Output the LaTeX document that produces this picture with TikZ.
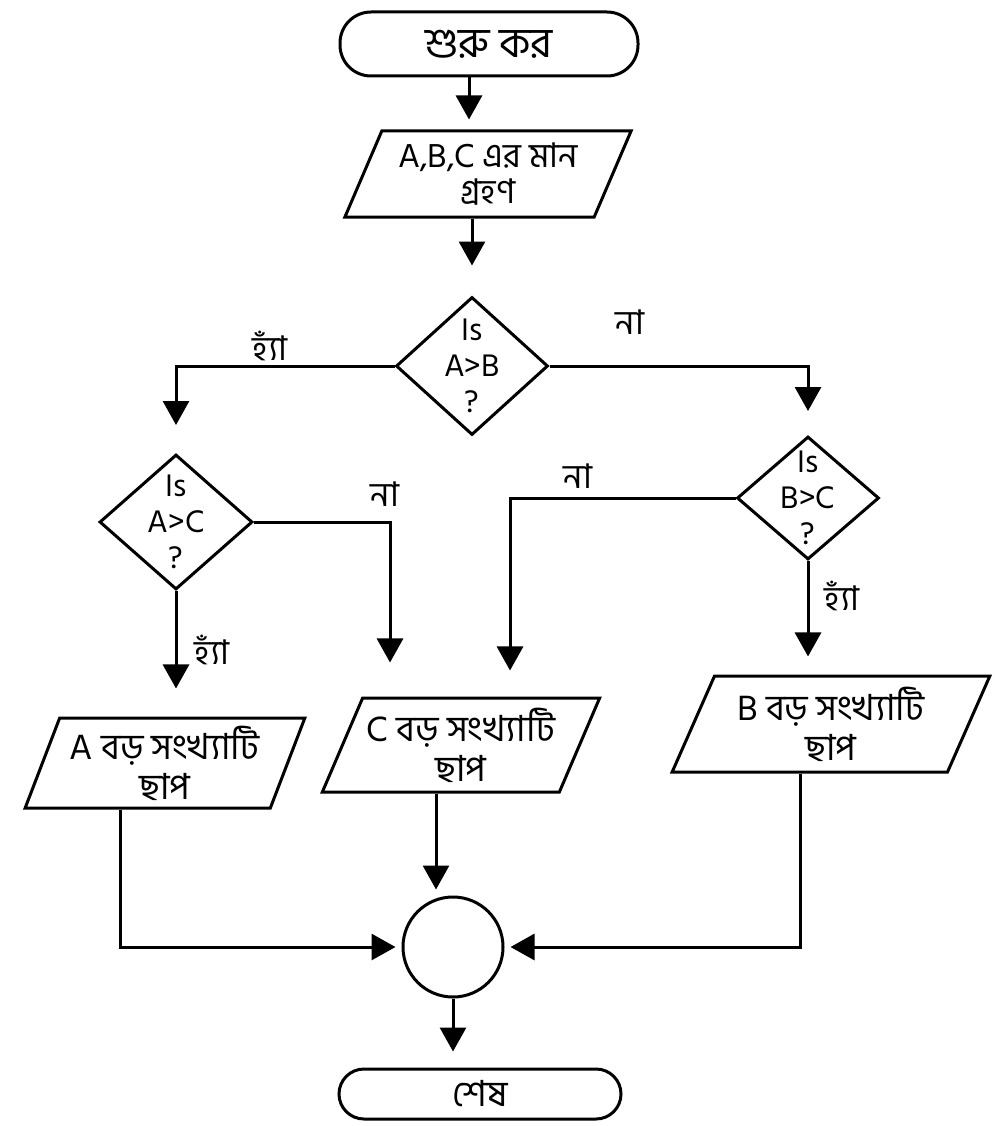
\documentclass[tikz,border=0pt]{standalone}
\usepackage{fontspec}
\setmainfont[Script=Bengali]{Hind Siliguri}
\usetikzlibrary{shapes.geometric,arrows.meta,calc}
\tikzset{
  base/.style={draw, line width=3pt, align=center, inner sep=0pt},
  term/.style={base, rectangle},
  io/.style={base, trapezium, trapezium stretches=true, inner sep=-6pt},
  decision/.style={base, diamond, inner sep=-18pt, font=\fontsize{32}{36}\selectfont},
  junction/.style={base, circle, minimum size=100pt},
  flow/.style={line width=3pt, -{Triangle[width=26pt,length=24pt]}},
  lbl/.style={font=\fontsize{34}{36}\selectfont, inner sep=0pt}
}
\begin{document}
\begin{tikzpicture}[x=1pt,y=-1pt]
\useasboundingbox (0,0) rectangle (995,1126);
% nodes
\node[term, rounded corners=31pt, minimum width=298pt, minimum height=64pt, font=\fontsize{42}{44}\selectfont] (start) at (489,44) {শুরু কর};
\node[io, trapezium left angle=60, trapezium right angle=120, minimum width=287pt, minimum height=86pt, font=\fontsize{34}{36}\selectfont] (in) at (488,174) {A,B,C এর মান\\গ্রহণ};
\node[decision, minimum width=152pt, minimum height=138pt] (d1) at (472,366) {Is\\A>B\\?};
\node[decision, minimum width=153pt, minimum height=135pt] (d3) at (176,522) {Is\\A>C\\?};
\node[decision, minimum width=142pt, minimum height=123pt] (d2) at (808,498) {Is\\B>C\\?};
\node[io, trapezium left angle=65, trapezium right angle=115, minimum width=280pt, minimum height=90pt, font=\fontsize{36}{40}\selectfont] (pA) at (165,763) {A বড় সংখ্যাটি\\ছাপ};
\node[io, trapezium left angle=60, trapezium right angle=120, minimum width=278pt, minimum height=94pt, font=\fontsize{36}{40}\selectfont] (pC) at (461,745) {C বড় সংখ্যাটি\\ছাপ};
\node[io, trapezium left angle=63, trapezium right angle=117, minimum width=318pt, minimum height=96pt, font=\fontsize{36}{40}\selectfont] (pB) at (831,724) {B বড় সংখ্যাটি\\ছাপ};
\node[junction] (junc) at (453,947) {};
\node[term, rounded corners=25pt, minimum width=282pt, minimum height=50pt, font=\fontsize{36}{38}\selectfont] (end) at (480,1094) {শেষ};
% connectors
\draw[flow, shorten >=10pt] ([xshift=-20pt]start.south) -- ([xshift=-20pt]start.south |- in.north);
\draw[flow, shorten >=30pt] (in.south -| d1.north) -- (d1.north);
\draw[flow, shorten >=28pt] (d1.west) -| (d3.north);
\draw[flow, shorten >=24pt] (d1.east) -| (d2.north);
\draw[flow, shorten >=28pt] (d3.south) -- (d3.south |- pA.north);
\draw[flow, shorten >=34pt] (d3.east) -| ([xshift=-71pt]pC.north);
\draw[flow, shorten >=26pt] (d2.west) -| ([xshift=49pt]pC.north);
\draw[flow, shorten >=18pt] (d2.south) -- (d2.south |- pB.north);
\draw[flow, shorten >=6pt] ([xshift=-45pt]pA.south) |- (junc.west);
\draw[flow, shorten >=6pt] ([xshift=-25pt]pC.south) -- ([xshift=-25pt]pC.south |- junc.north);
\draw[flow, shorten >=6pt] ([xshift=-31pt]pB.south) |- (junc.east);
\draw[flow, shorten >=16pt] (junc.south) -- (junc.south |- end.north);
% labels
\node[lbl] (yes1) at (270,346) {হ্যাঁ};
\node[lbl] (no1) at (630,322) {না};
\node[lbl] (no3) at (385,494) {না};
\node[lbl] (no2) at (578,476) {না};
\node[lbl] (yes3) at (212,650) {হ্যাঁ};
\node[lbl] (yes2) at (842,596) {হ্যাঁ};
\end{tikzpicture}
\end{document}
